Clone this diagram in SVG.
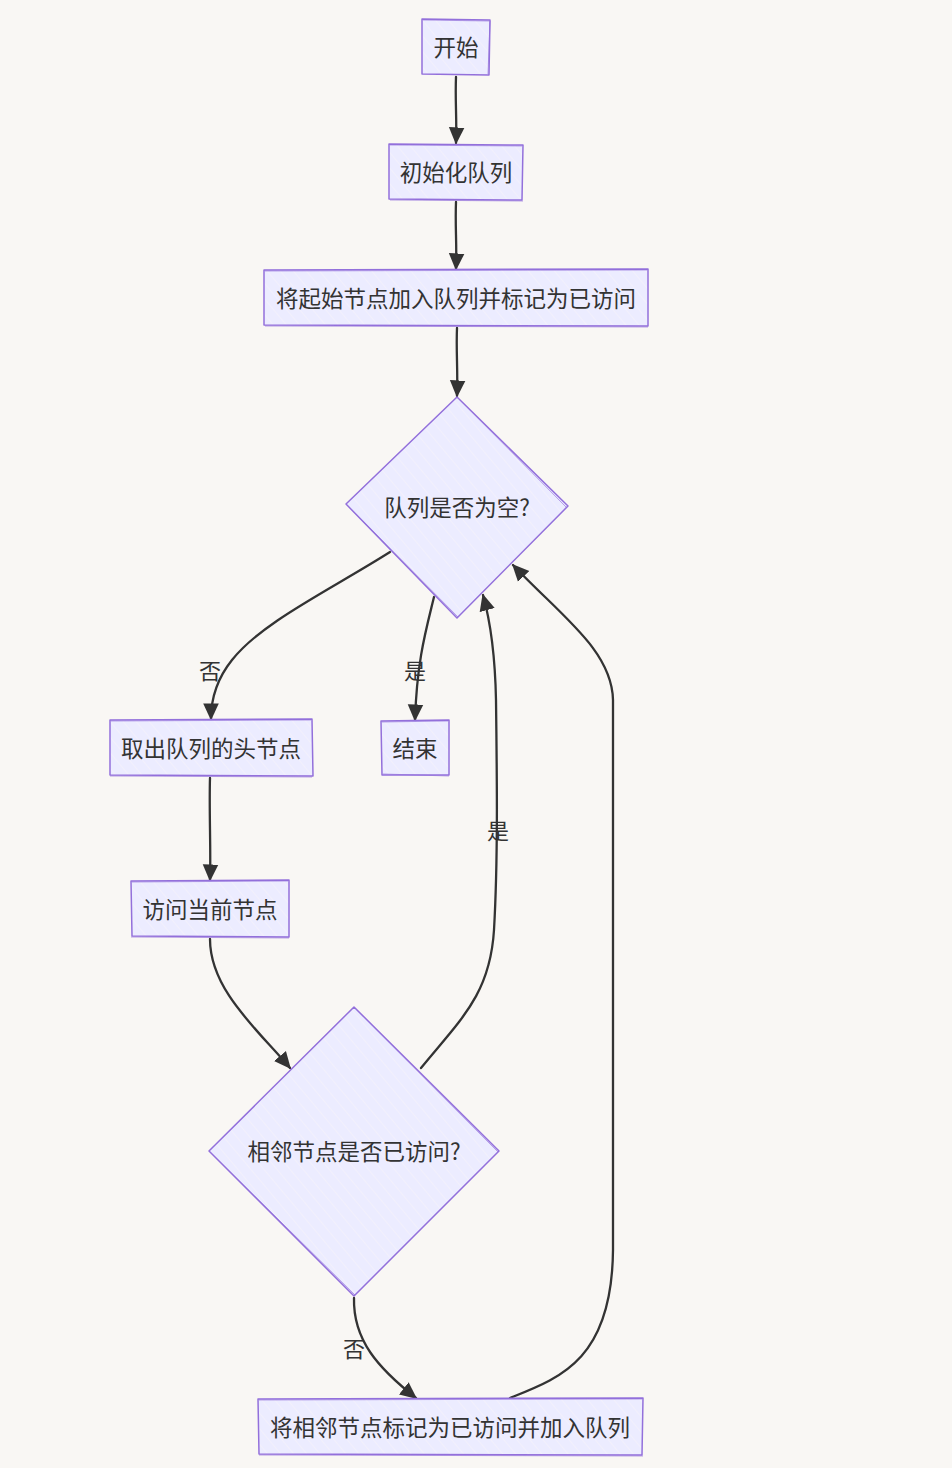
<svg xmlns="http://www.w3.org/2000/svg" width="952" height="1468" viewBox="0 0 952 1468">
<style>
  .bg { fill: #f9f7f4; }
  .node { fill: url(#hatch); stroke: #9370DB; stroke-width: 1.5; stroke-linejoin: round; }
  .sk { fill: none; stroke: #9370DB; stroke-width: 0.8; opacity: 0.8; }
  .lbl { font-family: "Noto Sans CJK SC", "Noto Sans", sans-serif; font-size: 22.5px; fill: #333333; text-anchor: middle; dominant-baseline: central; }
  .edge { fill: none; stroke: #333333; stroke-width: 2.3; stroke-linecap: round; }
  .elbl { font-family: "Noto Sans CJK SC", "Noto Sans", sans-serif; font-size: 22px; fill: #333333; text-anchor: middle; dominant-baseline: central; }
</style>
<defs>
  <pattern id="hatch" patternUnits="userSpaceOnUse" width="10" height="10" patternTransform="rotate(-40)">
    <rect width="10" height="10" fill="#ECECFF"/>
    <line x1="0" y1="0" x2="0" y2="10" stroke="#f7f4fb" stroke-width="1.2"/>
  </pattern>
  <marker id="arrow" viewBox="0 0 12 12" refX="11" refY="6" markerWidth="17" markerHeight="17" markerUnits="userSpaceOnUse" orient="auto">
    <path d="M0,0.5 L12,6 L0,11.5 Z" fill="#333333"/>
  </marker>
</defs>
<rect class="bg" x="0" y="0" width="952" height="1468"/>

<g id="connectors">
  <path class="edge" marker-end="url(#arrow)" d="M456,77 C455,100 457,120 456,143"/>
  <path class="edge" marker-end="url(#arrow)" d="M456,202 C455,225 457,245 456,269"/>
  <path class="edge" marker-end="url(#arrow)" d="M457,328 C456,350 458,372 457,396"/>
  <path class="edge" marker-end="url(#arrow)" d="M390,552 C330,590 262,622 232,660 C216,680 211,700 211,719"/>
  <path class="edge" marker-end="url(#arrow)" d="M434,597 C426,630 417,660 415,720"/>
  <path class="edge" marker-end="url(#arrow)" d="M210,778 C209,810 211,850 210,880"/>
  <path class="edge" marker-end="url(#arrow)" d="M210,939 C210,990 258,1030 290,1068"/>
  <path class="edge" marker-end="url(#arrow)" d="M421,1068 C460,1020 490,995 494,930 C498,860 497,780 496,700 C495,650 490,620 483,595"/>
  <path class="edge" marker-end="url(#arrow)" d="M354,1298 C353,1340 378,1368 416,1398"/>
  <path class="edge" marker-end="url(#arrow)" d="M510,1398 C560,1378 612,1360 613,1250 C614,1000 612,800 613,700 C612,650 560,615 513,565"/>
  <text class="elbl" x="210" y="669">否</text>
  <text class="elbl" x="415" y="669">是</text>
  <text class="elbl" x="498" y="829">是</text>
  <text class="elbl" x="354" y="1347">否</text>
</g>

<g id="start">
  <path class="node" d="M422,19 L490,20 L489,75 L422,74 Z"/>
  <path class="sk" d="M423,20 L489,21 M490,21 L488,74"/>
  <text class="lbl" x="456" y="46">开始</text>
</g>
<g id="initQueue">
  <path class="node" d="M389,144 L523,145 L522,200 L389,199 Z"/>
  <path class="sk" d="M390,145 L522,146 M390,200 L523,201"/>
  <text class="lbl" x="456" y="171">初始化队列</text>
</g>
<g id="enqueueStart">
  <path class="node" d="M264,270 L648,269 L648,326 L264,325 Z"/>
  <path class="sk" d="M265,271 L647,270 M265,326 L648,327"/>
  <text class="lbl" x="456" y="297">将起始节点加入队列并标记为已访问</text>
</g>
<g id="isEmpty">
  <path class="node" d="M457,397 L568,506 L457,618 L346,504 Z"/>
  <path class="sk" d="M458,398 L567,508 M347,505 L458,617"/>
  <text class="lbl" x="457" y="506">队列是否为空?</text>
</g>
<g id="dequeue">
  <path class="node" d="M110,720 L312,719 L313,776 L110,775 Z"/>
  <path class="sk" d="M111,721 L311,720 M110,776 L312,777"/>
  <text class="lbl" x="211" y="747">取出队列的头节点</text>
</g>
<g id="end">
  <path class="node" d="M381,721 L449,720 L449,775 L382,775 Z"/>
  <path class="sk" d="M382,722 L448,721 M383,774 L449,776"/>
  <text class="lbl" x="415" y="747">结束</text>
</g>
<g id="visit">
  <path class="node" d="M131,881 L289,880 L289,937 L132,936 Z"/>
  <path class="sk" d="M132,882 L288,881 M131,937 L289,938"/>
  <text class="lbl" x="210" y="908">访问当前节点</text>
</g>
<g id="visited">
  <path class="node" d="M354,1007 L499,1151 L354,1296 L209,1151 Z"/>
  <path class="sk" d="M355,1008 L498,1152 M210,1152 L355,1295"/>
  <text class="lbl" x="354" y="1150">相邻节点是否已访问?</text>
</g>
<g id="markEnqueue">
  <path class="node" d="M258,1399 L643,1398 L642,1455 L259,1454 Z"/>
  <path class="sk" d="M259,1400 L642,1399 M259,1455 L643,1456"/>
  <text class="lbl" x="450" y="1426">将相邻节点标记为已访问并加入队列</text>
</g>
</svg>
